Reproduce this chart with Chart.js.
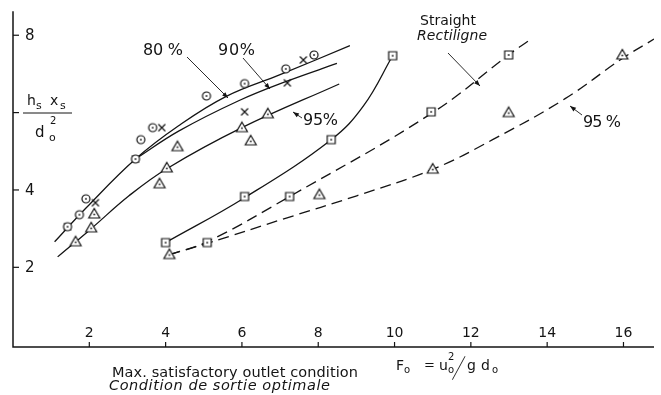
<!DOCTYPE html>
<html>
<head>
<meta charset="utf-8">
<script src="https://cdn.jsdelivr.net/npm/chart.js@4/dist/chart.umd.min.js"></script>
<style>
html, body { margin: 0; background: #fff; }
</style>
</head>
<body>
<canvas id="chart" width="661" height="395"></canvas>
<script>
// 軸の目盛
const xTicks = [2, 4, 6, 8, 10, 12, 14, 16];
const yTicks = [2, 4, 6, 8];
const yTickLabels = ['2', '4', '', '8'];

// 測定点（記号ごと）
const circlePts = [[1.43, 3.05], [1.74, 3.36], [1.91, 3.77], [3.21, 4.80], [3.35, 5.30], [3.66, 5.61], [5.07, 6.43], [6.07, 6.75], [7.15, 7.13], [7.89, 7.49]];
const crossPts = [[1.43, 3.05], [2.16, 3.67], [3.21, 4.80], [3.90, 5.61], [6.07, 6.02], [7.19, 6.77], [7.61, 7.36]];
const trianglePts = [[1.64, 2.66], [2.05, 3.02], [2.13, 3.38], [3.84, 4.16], [4.03, 4.57], [4.31, 5.12], [6.00, 5.61], [6.23, 5.27], [6.68, 5.97],
                     [4.10, 2.33], [8.03, 3.88], [11.0, 4.54], [12.99, 6.00], [15.97, 7.49]];
const squarePts = [[4.00, 2.64], [6.07, 3.83], [8.34, 5.30], [9.95, 7.47], [5.09, 2.64], [7.25, 3.83], [10.96, 6.02], [12.99, 7.49]];

// 曲線（図から読み取った点）
const curve80 = [[1.09, 2.66], [1.92, 3.54], [3.21, 4.8], [4.34, 5.66], [5.59, 6.42], [7.0, 6.98], [8.83, 7.73]];
const curve90 = [[3.21, 4.8], [4.34, 5.52], [5.9, 6.3], [7.2, 6.82], [8.49, 7.27]];
const curve95 = [[1.17, 2.27], [2.05, 3.0], [3.04, 3.85], [4.03, 4.55], [6.0, 5.61], [8.55, 6.74]];
const curveSquare = [[4.0, 2.64], [6.07, 3.8], [8.34, 5.3], [9.19, 6.18], [9.95, 7.47]];
const dashStraight = [[4.1, 2.33], [5.09, 2.66], [7.25, 3.83], [11.0, 6.0], [13.0, 7.5], [13.5, 7.85]];
const dash95 = [[4.1, 2.33], [5.09, 2.62], [7.12, 3.26], [9.01, 3.85], [11.04, 4.55], [12.57, 5.3], [14.47, 6.36], [15.97, 7.4], [16.8, 7.9]];

const FONT = '"DejaVu Sans", "Liberation Sans", sans-serif';
const INK = '#141414';

const toXY = pts => pts.map(([x, y]) => ({ x: x, y: y }));

// 記号の画像を作る
function makeMarker(kind) {
    const s = 16, m = 8;
    const c = document.createElement('canvas');
    c.width = s; c.height = s;
    const g = c.getContext('2d');
    g.strokeStyle = INK; g.fillStyle = '#fff'; g.lineWidth = 1.2;
    g.beginPath();
    if (kind === 'circle') {
        g.arc(m, m, 4, 0, 2 * Math.PI);
    } else if (kind === 'square') {
        g.rect(m - 4, m - 4, 8, 8);
    } else if (kind === 'triangle') {
        g.moveTo(m, m - 5.5);
        g.lineTo(m + 5.5, m + 4);
        g.lineTo(m - 5.5, m + 4);
        g.closePath();
    }
    if (kind !== 'cross') {
        g.fill();
        g.stroke();
        g.fillStyle = INK;
        g.fillRect(m - 0.8, (kind === 'triangle' ? m + 0.5 : m) - 0.8, 1.6, 1.6);
    } else {
        g.moveTo(m - 3.5, m - 3.5); g.lineTo(m + 3.5, m + 3.5);
        g.moveTo(m + 3.5, m - 3.5); g.lineTo(m - 3.5, m + 3.5);
        g.stroke();
    }
    return c;
}

function markerSet(pts, kind) {
    return { data: toXY(pts), pointStyle: makeMarker(kind), pointRadius: 6, showLine: false };
}

function curveSet(pts, dashed) {
    return {
        data: toXY(pts), showLine: true, pointRadius: 0, borderColor: INK, borderWidth: 1.3,
        tension: 0.4, borderDash: dashed ? [11, 6] : []
    };
}

// 文字幅を合わせて描く
function fitText(ctx, text, x, y, width, font) {
    ctx.font = font;
    ctx.letterSpacing = '0px';
    const w0 = ctx.measureText(text).width;
    ctx.letterSpacing = ((width - w0) / Math.max(1, text.length - 1)) + 'px';
    ctx.textAlign = 'left';
    ctx.fillText(text, x, y);
    ctx.letterSpacing = '0px';
}

function txt(ctx, text, x, y, size, italic) {
    ctx.font = (italic ? 'italic ' : '') + size + 'px ' + FONT;
    ctx.textAlign = 'left';
    ctx.fillText(text, x, y);
}

function arrow(ctx, x1, y1, x2, y2) {
    ctx.beginPath();
    ctx.moveTo(x1, y1);
    ctx.lineTo(x2, y2);
    ctx.stroke();
    const a = Math.atan2(y2 - y1, x2 - x1);
    ctx.beginPath();
    ctx.moveTo(x2, y2);
    ctx.lineTo(x2 - 6 * Math.cos(a) + 2.3 * Math.sin(a), y2 - 6 * Math.sin(a) - 2.3 * Math.cos(a));
    ctx.lineTo(x2 - 6 * Math.cos(a) - 2.3 * Math.sin(a), y2 - 6 * Math.sin(a) + 2.3 * Math.cos(a));
    ctx.closePath();
    ctx.fill();
}

// 軸・目盛・文字
const decor = {
    id: 'decor',
    afterDraw(chart) {
        const { ctx, chartArea, scales: { x, y } } = chart;
        const x0 = x.getPixelForValue(0);
        const yb = chartArea.bottom;
        ctx.save();
        ctx.strokeStyle = INK;
        ctx.fillStyle = INK;
        ctx.lineWidth = 1.5;
        ctx.beginPath();
        ctx.moveTo(x0, y.getPixelForValue(8.62));
        ctx.lineTo(x0, yb);
        ctx.lineTo(chartArea.right, yb);
        ctx.stroke();

        ctx.lineWidth = 1.2;
        ctx.textBaseline = 'alphabetic';
        xTicks.forEach(v => {
            const px = x.getPixelForValue(v);
            ctx.beginPath(); ctx.moveTo(px, yb); ctx.lineTo(px, yb - 5); ctx.stroke();
            ctx.font = '14px ' + FONT;
            ctx.textAlign = 'center';
            ctx.fillText(String(v), px, yb - 10);
        });
        ctx.textBaseline = 'middle';
        yTicks.forEach((v, i) => {
            const py = y.getPixelForValue(v);
            ctx.beginPath(); ctx.moveTo(x0, py); ctx.lineTo(x0 + 6, py); ctx.stroke();
            ctx.font = '15px ' + FONT;
            ctx.textAlign = 'left';
            ctx.fillText(yTickLabels[i], x0 + 12, py + 1);
        });
        ctx.textBaseline = 'alphabetic';

        // 縦軸の記号 h_s x_s / d_o^2
        txt(ctx, 'h', 27, 105, 14); txt(ctx, 's', 36, 109, 11);
        txt(ctx, 'x', 50, 105, 14); txt(ctx, 's', 60, 109, 11);
        ctx.lineWidth = 1; ctx.beginPath(); ctx.moveTo(23, 113); ctx.lineTo(72, 113); ctx.stroke();
        txt(ctx, '2', 50, 124, 10);
        txt(ctx, 'd', 35, 137, 15); txt(ctx, 'o', 49, 141, 11);

        // 横軸の説明
        fitText(ctx, 'Max. satisfactory outlet condition', 112, 377, 246, '14.5px ' + FONT);
        fitText(ctx, 'Condition de sortie optimale', 109, 390, 221, 'italic 14.5px ' + FONT);
        txt(ctx, 'F', 396, 370, 14); txt(ctx, 'o', 404, 373, 10);
        txt(ctx, '=', 424, 369, 13);
        txt(ctx, 'u', 439, 370, 14); txt(ctx, 'o', 448, 373, 10); txt(ctx, '2', 448, 360, 10);
        ctx.save();
        ctx.translate(453, 377);
        ctx.transform(1, 0, -1.1, 2.6, 0, 0);
        txt(ctx, '/', 0, 0, 11);
        ctx.restore();
        txt(ctx, 'g', 467, 370, 14);
        txt(ctx, 'd', 481, 370, 14); txt(ctx, 'o', 492, 373, 10);

        // 注記
        ctx.lineWidth = 0.9;
        fitText(ctx, '80 %', 143, 55, 40, '16px ' + FONT);
        arrow(ctx, 187, 57, 228, 98);
        fitText(ctx, '90%', 218, 55, 37, '16px ' + FONT);
        arrow(ctx, 243, 58, 270, 89);
        fitText(ctx, '95%', 303, 125, 35, '16px ' + FONT);
        arrow(ctx, 302, 118, 293, 112);
        fitText(ctx, 'Straight', 420, 25, 56, '14px ' + FONT);
        fitText(ctx, 'Rectiligne', 417, 40, 70, 'italic 14px ' + FONT);
        arrow(ctx, 448, 53, 480, 86);
        fitText(ctx, '95 %', 583, 127, 38, '16px ' + FONT);
        arrow(ctx, 582, 115, 570, 106);
        ctx.restore();
    }
};

new Chart(document.getElementById('chart').getContext('2d'), {
    type: 'scatter',
    data: {
        datasets: [
            markerSet(circlePts, 'circle'),
            markerSet(crossPts, 'cross'),
            markerSet(trianglePts, 'triangle'),
            markerSet(squarePts, 'square'),
            curveSet(curve80, false),
            curveSet(curve90, false),
            curveSet(curve95, false),
            curveSet(curveSquare, false),
            curveSet(dashStraight, true),
            curveSet(dash95, true)
        ]
    },
    options: {
        responsive: false,
        animation: false,
        devicePixelRatio: 1,
        layout: { padding: { left: 13, right: 1, top: 7, bottom: 48 } },
        plugins: { legend: { display: false }, tooltip: { enabled: false } },
        scales: {
            x: { type: 'linear', display: false, min: 0, max: 16.8 },
            y: { type: 'linear', display: false, min: -0.06, max: 8.73 }
        }
    },
    plugins: [decor]
});
</script>
</body>
</html>
